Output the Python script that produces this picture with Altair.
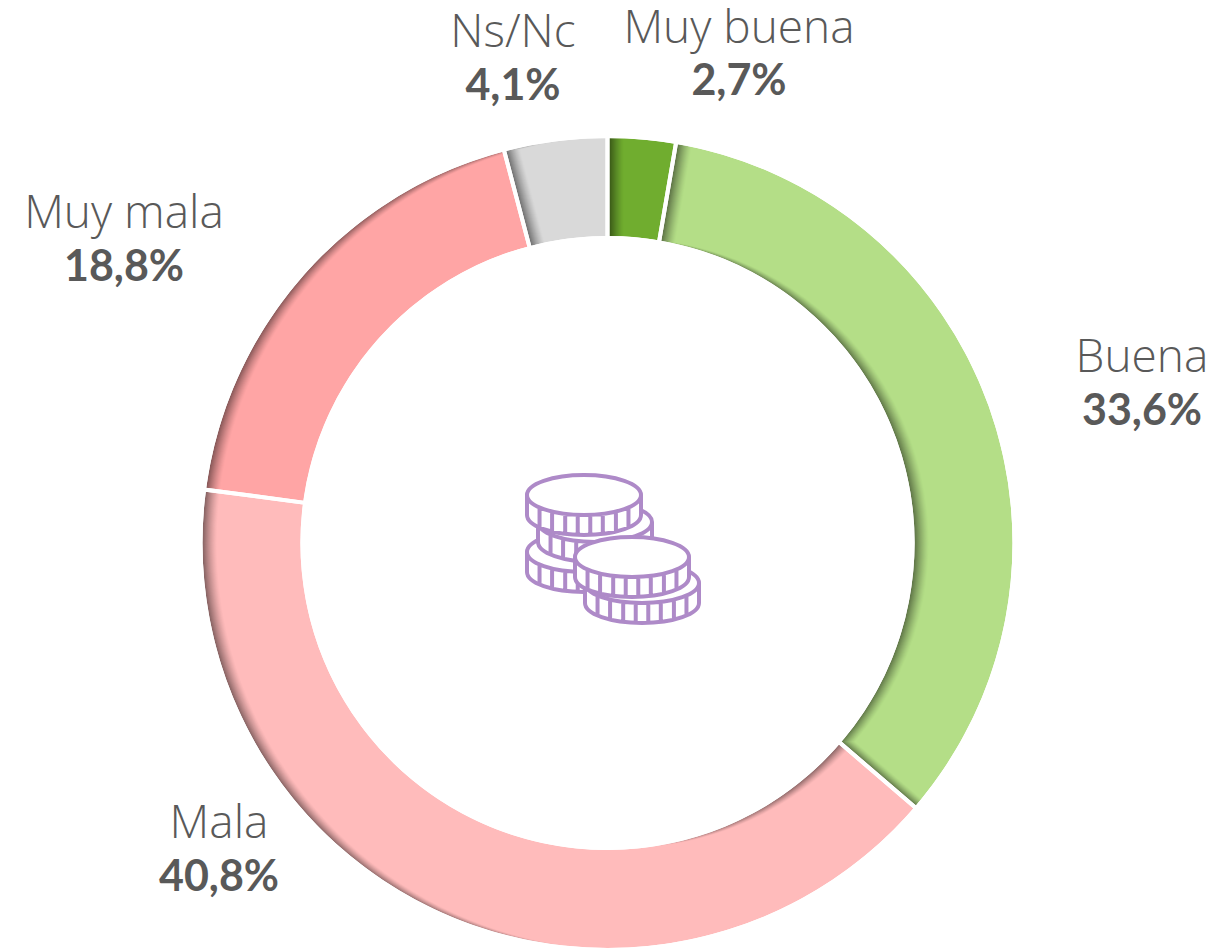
import math
import altair as alt
import pandas as pd

# --- data -------------------------------------------------------------
categories = ["Muy buena", "Buena", "Mala", "Muy mala", "Ns/Nc"]
values = [2.7, 33.6, 40.8, 18.8, 4.1]
value_labels = ["2,7%", "33,6%", "40,8%", "18,8%", "4,1%"]
colors = ["#70AD2F", "#B4DE87", "#FFBBBB", "#FFA5A5", "#D9D9D9"]
label_x = [739, 1142, 219, 124, 513]
name_y = [43, 372, 838, 228, 47]
value_y = [95, 425, 891, 281, 100]
coin_x = [584, 595, 584, 642, 632]
coin_y = [552, 522, 495, 583, 557]

W, H = 1213, 943
CX, CY, R_OUT, R_IN = 607.5, 543, 405, 307
SHADOW = 16
DRAW_ORDER = ["Mala", "Muy mala", "Ns/Nc", "Muy buena", "Buena"]

xs = alt.Scale(domain=[8, 8 + W], range=[0, W])
ys = alt.Scale(domain=[8, 8 + H], range=[0, H])
ts = alt.Scale(domain=[0, 100], range=[0, 2 * math.pi])

starts = [sum(values[:i]) for i in range(len(values))]
ends = [sum(values[: i + 1]) for i in range(len(values))]


def shade(hex_col, a):
    r, g, b = [int(hex_col[i : i + 2], 16) for i in (1, 3, 5)]
    return "#%02x%02x%02x" % (round(r * (1 - a)), round(g * (1 - a)), round(b * (1 - a)))


rows = []
for name in DRAW_ORDER:
    i = categories.index(name)
    for d in range(SHADOW + 1):
        a = 0.55 * (1 - d / SHADOW) ** 1.3
        rows.append(dict(cat=name, start=starts[i], end=ends[i], px=CX + d, py=CY, col=shade(colors[i], a)))
slices = pd.DataFrame(rows)


def arc_enc(**extra):
    return dict(
        theta=alt.Theta("start:Q", scale=ts, stack=None),
        theta2="end:Q",
        x=alt.X("px:Q", scale=xs, axis=None),
        y=alt.Y("py:Q", scale=ys, axis=None),
        **extra,
    )


ring = alt.Chart(slices).mark_arc(radius=R_OUT + 2, radius2=R_IN - 2).encode(
    **arc_enc(color=alt.Color("col:N", scale=None, legend=None))
)

whole = pd.DataFrame([dict(start=0, end=100, px=CX, py=CY)])
mask_out = alt.Chart(whole).mark_arc(radius=R_OUT + 45, radius2=R_OUT, fill="white").encode(**arc_enc())
mask_in = alt.Chart(whole).mark_arc(radius=R_IN, radius2=0, fill="white").encode(**arc_enc())

edges = pd.DataFrame(dict(start=starts, end=ends, px=[CX] * 5, py=[CY] * 5))
gaps = alt.Chart(edges).mark_arc(
    radius=R_OUT + 2, radius2=R_IN - 2, fillOpacity=0, stroke="white", strokeWidth=4
).encode(**arc_enc())

# coin icon
t = 0.35
coin = f"M-1 0A1 {t} 0 0 0 1 0A1 {t} 0 0 0 -1 0ZM-1 0L-1 {t}A1 {t} 0 0 0 1 {t}L1 0"
for u in (-0.78, -0.56, -0.33, -0.11, 0.11, 0.33, 0.56, 0.78):
    coin += f"M{u} {t * math.sqrt(1 - u * u):.3f}L{u} {t + t * math.sqrt(1 - u * u):.3f}"

coins = pd.DataFrame(dict(px=coin_x, py=coin_y))
icon = alt.Chart(coins).mark_point(
    shape=coin, size=114 ** 2, filled=True, fill="white", stroke="#AE8AC8", strokeWidth=4, opacity=1, strokeOpacity=1, fillOpacity=1
).encode(x=alt.X("px:Q", scale=xs, axis=None), y=alt.Y("py:Q", scale=ys, axis=None))

labels = pd.DataFrame(dict(name=categories, val=value_labels, px=label_x, ny=name_y, vy=value_y))
names = alt.Chart(labels).mark_text(
    font="Open Sans", fontSize=46, fontWeight=300, color="#595959", align="center", baseline="alphabetic"
).encode(x=alt.X("px:Q", scale=xs, axis=None), y=alt.Y("ny:Q", scale=ys, axis=None), text="name:N")
vals = alt.Chart(labels).mark_text(
    font="Lato", fontSize=43, fontWeight="bold", color="#595959", align="center", baseline="alphabetic"
).encode(x=alt.X("px:Q", scale=xs, axis=None), y=alt.Y("vy:Q", scale=ys, axis=None), text="val:N")

chart = (
    alt.layer(ring, mask_out, mask_in, gaps, icon, names, vals)
    .properties(width=W, height=H, padding=0, autosize=alt.AutoSizeParams(type="none"), background="white")
    .configure_view(stroke=None)
)
chart.save("out.html", embed_options={"renderer": "svg", "actions": False})
